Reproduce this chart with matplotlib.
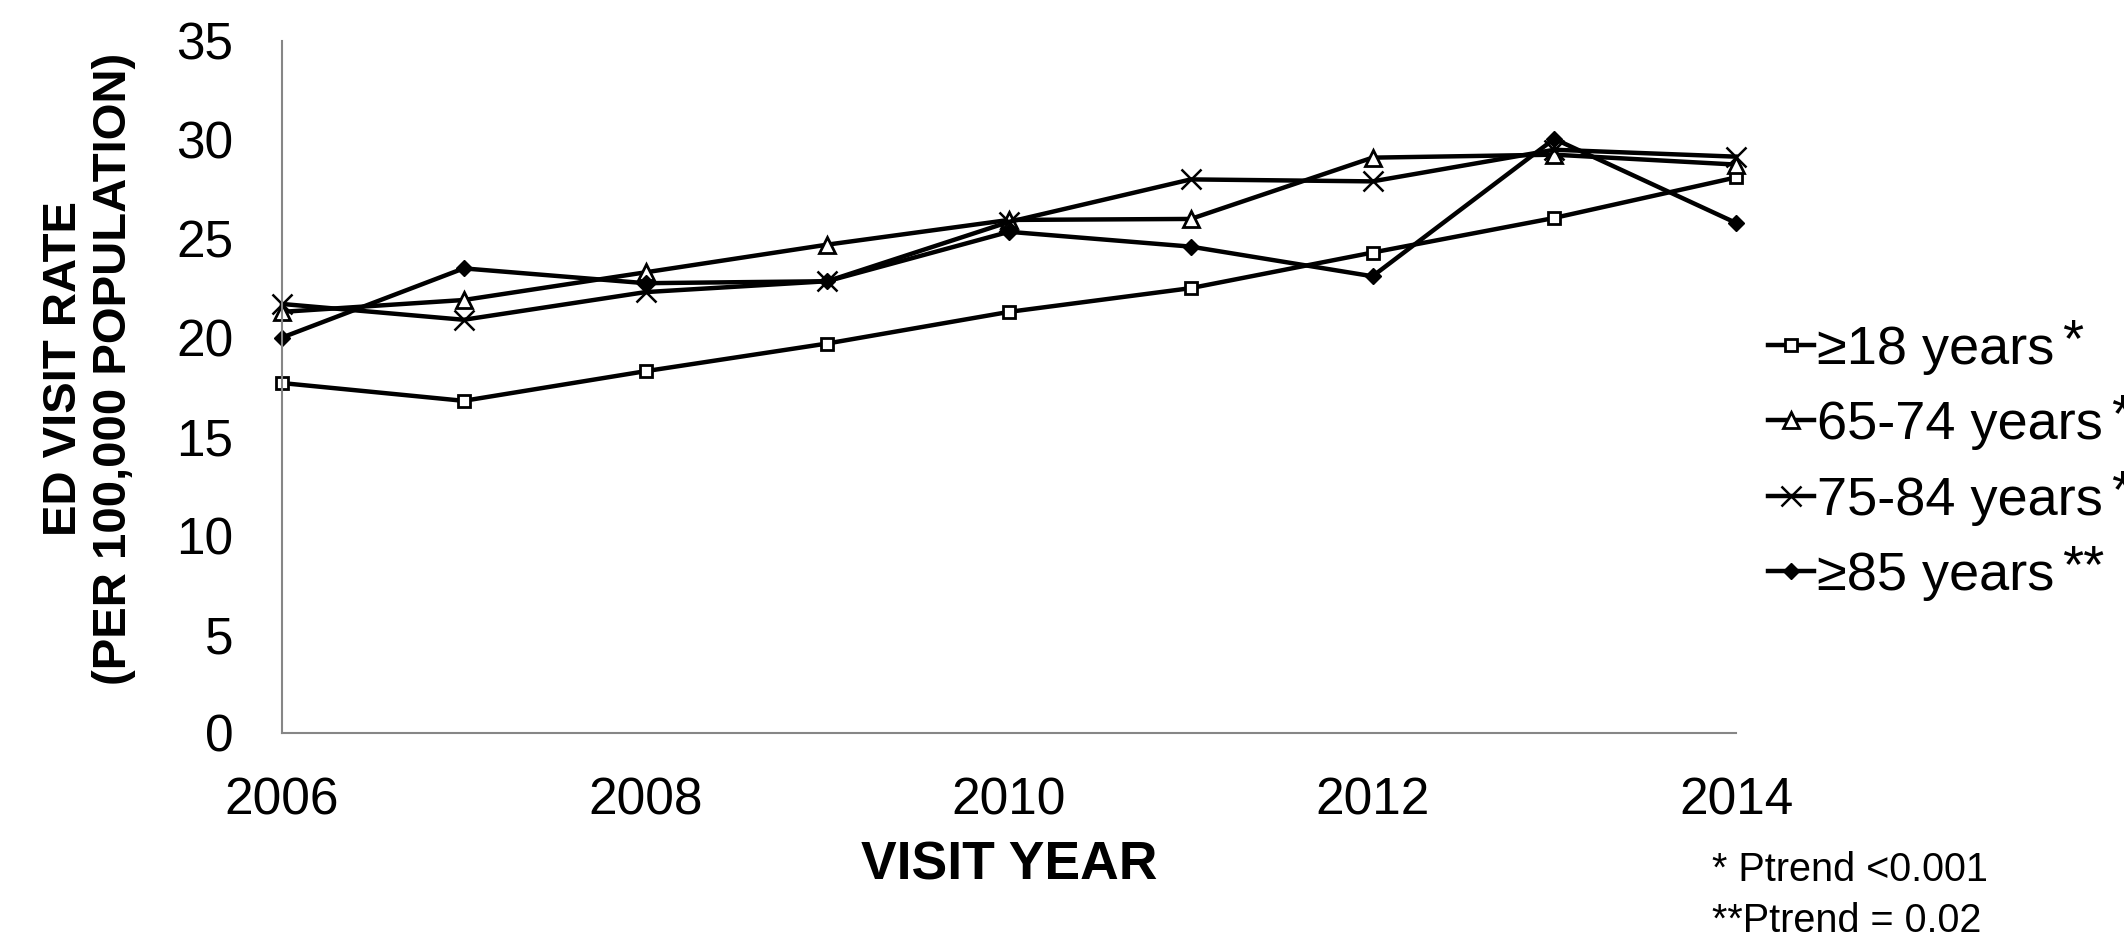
import numpy as np
import matplotlib
matplotlib.use('Agg')
import matplotlib.pyplot as plt

plt.rcParams['font.family'] = ['Liberation Sans', 'DejaVu Sans']

years = [2006, 2007, 2008, 2009, 2010, 2011, 2012, 2013, 2014]
ge18 = [17.7, 16.8, 18.3, 19.7, 21.3, 22.5, 24.3, 26.05, 28.1]
age65_74 = [21.3, 21.9, 23.3, 24.7, 25.95, 26.0, 29.1, 29.25, 28.75]
age75_84 = [21.7, 20.9, 22.3, 22.85, 25.85, 28.0, 27.9, 29.5, 29.15]
ge85 = [20.0, 23.5, 22.75, 22.85, 25.35, 24.6, 23.1, 30.05, 25.8]

labels = ['\u226518 years', '65-74 years', '75-84 years', '\u226585 years']
marks = ['*', '*', '*', '**']
xticks = [2006, 2008, 2010, 2012, 2014]
yticks = [0, 5, 10, 15, 20, 25, 30, 35]

W, H = 2124, 941
fig = plt.figure(figsize=(W / 100, H / 100), dpi=100)
ax = fig.add_axes([282 / W, 1 - 733 / H, (1736 - 282) / W, (733 - 41) / H])

ax.plot(years, ge18, color='black', lw=3.2, marker='s', ms=9, mfc='white', mec='black', mew=2, label=labels[0])
ax.plot(years, age65_74, color='black', lw=3.2, marker='^', ms=11, mfc='white', mec='black', mew=2, label=labels[1])
ax.plot(years, age75_84, color='black', lw=3.2, marker='x', ms=14, mec='black', mew=1.8, label=labels[2])
ax.plot(years, ge85, color='black', lw=3.2, marker='D', ms=8, mfc='black', mec='black', label=labels[3])

ax.set_xlim(2006, 2014)
ax.set_ylim(0, 35)
ax.set_xticks(xticks)
ax.set_yticks(yticks)
ax.tick_params(axis='both', length=0, labelsize=37)
ax.tick_params(axis='x', pad=31)
ax.tick_params(axis='y', pad=35)

for s in ['top', 'right']:
    ax.spines[s].set_visible(False)
for s in ['left', 'bottom']:
    ax.spines[s].set_color('#868686')
    ax.spines[s].set_linewidth(1.5)
for ln in ax.get_lines():
    ln.set_clip_on(False)

fig.text(1009 / W, 1 - 866 / H, 'VISIT YEAR', ha='center', va='center',
         fontsize=38.5, fontweight='bold')
fig.text(89 / W, 1 - 369 / H, 'ED VISIT RATE\n(PER 100,000 POPULATION)', ha='center', va='center',
         rotation=90, ma='center', fontsize=34, fontweight='bold', linespacing=1.2)

leg = ax.legend(loc='center left', bbox_to_anchor=(1768 / W, 1 - 463 / H), bbox_transform=fig.transFigure,
                frameon=False, fontsize=39, handlelength=0.85, handletextpad=0.05, labelspacing=0.47,
                borderpad=0, borderaxespad=0)

# raised asterisks after each legend label
fig.canvas.draw()
for txt, m in zip(leg.get_texts(), marks):
    bb = txt.get_window_extent()
    fig.text((bb.x1 + 8) / W, (bb.y1 + 8) / H, m, ha='left', va='top', fontsize=39)

fig.text(1712 / W, 1 - 870 / H, '* Ptrend <0.001', ha='left', va='center', fontsize=28.5)
fig.text(1712 / W, 1 - 921 / H, '**Ptrend = 0.02', ha='left', va='center', fontsize=28.5)

fig.savefig('out.png', dpi=100)
